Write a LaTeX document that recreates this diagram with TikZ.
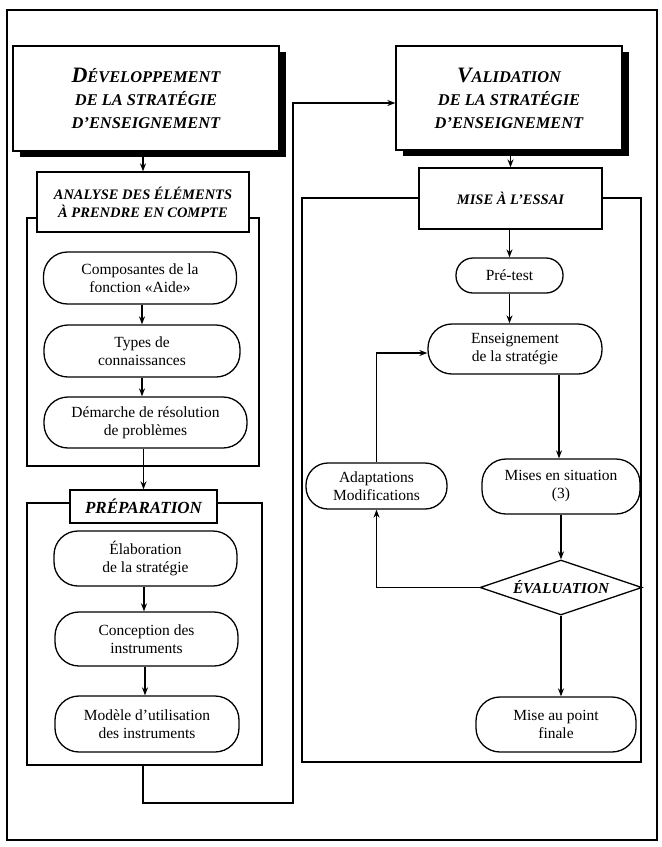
\documentclass[tikz,border=0pt]{standalone}
\usepackage{fontspec}
\setmainfont{Liberation Serif}
\usetikzlibrary{arrows.meta,shapes.geometric,shadows}

\newcommand{\grandeinit}[1]{{\fontsize{22}{22}\selectfont #1}}

\begin{document}
\begin{tikzpicture}[x=1pt,y=-1pt,line width=1.3pt,
  every node/.style={font=\fontsize{15.5}{18}\selectfont,inner sep=0pt,align=center},
  titre/.style={draw,fill=white,line width=1.3pt,
    font=\fontsize{16.4}{23}\selectfont\bfseries\itshape,
    drop shadow={shadow xshift=7pt,shadow yshift=-6pt,fill=black,opacity=1}},
  entete/.style={draw,fill=white,font=\fontsize{14.5}{18}\selectfont\bfseries\itshape},
  etape/.style={draw,rounded corners=24pt},
  fleche/.style={-{Stealth[length=8pt,width=6pt]}}]
  \useasboundingbox (0,0) rectangle (662,847);
  \draw (7,10) rectangle (657,840);
  % titles
  \node[titre,minimum width=266pt,minimum height=105pt] (devTitle) at (146,98.5)
    {\grandeinit{D}ÉVELOPPEMENT\\DE LA STRATÉGIE\\D’ENSEIGNEMENT};
  \node[titre,minimum width=226pt,minimum height=104pt] (valTitle) at (509,98)
    {\grandeinit{V}ALIDATION\\DE LA STRATÉGIE\\D’ENSEIGNEMENT};
  % left column: analysis
  \draw (27,218) rectangle (259,466);
  \node[entete,minimum width=212pt,minimum height=60pt] (analyse) at (143,202)
    {ANALYSE DES ÉLÉMENTS\\À PRENDRE EN COMPTE};
  \node[etape,minimum width=193pt,minimum height=52pt] (compos) at (140,278)
    {Composantes de la\\fonction «Aide»};
  \node[etape,minimum width=196pt,minimum height=52pt] (types) at (142,351)
    {Types de\\connaissances};
  \node[etape,minimum width=203pt,minimum height=51pt] (demarche) at (145.5,422.5)
    {Démarche de résolution\\de problèmes};
  % left column: preparation
  \draw (27,503) rectangle (262,765);
  \node[entete,minimum width=147pt,minimum height=33pt,font=\fontsize{17}{18}\selectfont\bfseries\itshape]
    (prep) at (143.5,506.5) {PRÉPARATION};
  \node[etape,minimum width=183pt,minimum height=55pt] (elabor) at (145.5,558.5)
    {Élaboration\\de la stratégie};
  \node[etape,minimum width=183pt,minimum height=54pt] (concept) at (146.5,639)
    {Conception des\\instruments};
  \node[etape,minimum width=184pt,minimum height=56pt] (modele) at (147,724)
    {Modèle d’utilisation\\des instruments};
  \coordinate (sortie) at (143,765);
  \coordinate (coin) at (293,803);
  % right column: trial
  \draw (302,198) rectangle (641,762);
  \node[entete,minimum width=183pt,minimum height=61pt] (essai) at (510.5,198.5)
    {MISE À L’ESSAI};
  \node[etape,rounded corners=17pt,minimum width=107pt,minimum height=35pt] (pretest) at (509.5,275.5)
    {Pré-test};
  \node[etape,minimum width=174pt,minimum height=50pt] (enseig) at (515,349)
    {Enseignement\\de la stratégie};
  \node[etape,rounded corners=22pt,minimum width=141pt,minimum height=46pt] (adapt) at (376.5,486)
    {Adaptations\\Modifications};
  \node[etape,minimum width=158pt,minimum height=55pt] (mises) at (561,486.5)
    {Mises en situation\\(3)};
  \node[draw,diamond,aspect=2.95,minimum width=162pt,minimum height=55pt,
    font=\fontsize{15.2}{18}\selectfont\bfseries\itshape] (evalu) at (561,587.5) {ÉVALUATION};
  \node[etape,minimum width=160pt,minimum height=55pt] (miseau) at (556,724.5)
    {Mise au point\\finale};
  % connectors
  \draw[fleche] (devTitle.south -| analyse.north) -- (analyse.north);
  \draw[fleche] (types.north |- compos.south) -- (types.north);
  \draw[fleche] (types.south) -- (types.south |- demarche.north);
  \draw[fleche] (demarche.south -| prep.north) -- (prep.north);
  \draw[fleche] (elabor.south -| 144,0) -- (concept.north -| 144,0);
  \draw[fleche] (concept.south -| 145,0) -- (modele.north -| 145,0);
  \draw[fleche] (sortie) |- (coin) |- ([yshift=-5pt]valTitle.west);
  \draw[fleche] (valTitle.south -| essai.north) -- (essai.north);
  \draw[fleche] (essai.south -| pretest.north) -- (pretest.north);
  \draw[fleche] (pretest.south) -- (pretest.south |- enseig.north);
  \draw[fleche] (enseig.south -| 559,0) -- (mises.north -| 559,0);
  \draw[fleche] (mises.south) -- (evalu.north);
  \draw[fleche] (evalu.south) -- (evalu.south |- miseau.north);
  \draw[fleche] (evalu.west) -| (adapt.south);
  \draw[fleche] (adapt.north) |- ([yshift=-4pt]enseig.west);
\end{tikzpicture}
\end{document}
